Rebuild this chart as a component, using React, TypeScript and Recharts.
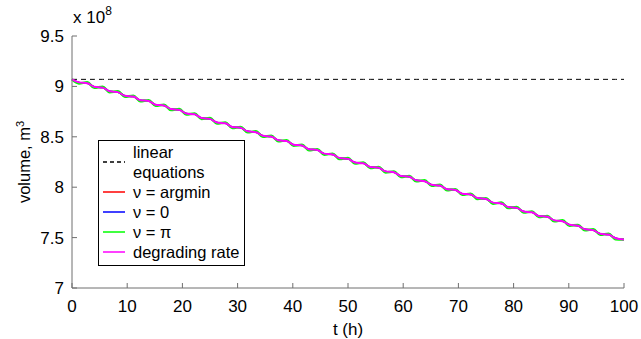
import { LineChart, Line, XAxis, YAxis, Legend } from "recharts";

// reservoir volume in units of 1e8 m³, sampled at the start of each
// drawdown step and at the start of the following plateau
const hours = [
  0, 1.25, 2.78, 4.03, 5.56, 6.81, 8.33, 9.58, 11.11, 12.36, 13.89, 15.14,
  16.67, 17.92, 19.44, 20.69, 22.22, 23.47, 25.0, 26.25, 27.78, 29.03, 30.56,
  31.81, 33.33, 34.58, 36.11, 37.36, 38.89, 40.14, 41.67, 42.92, 44.44, 45.69,
  47.22, 48.47, 50.0, 51.25, 52.78, 54.03, 55.56, 56.81, 58.33, 59.58, 61.11,
  62.36, 63.89, 65.14, 66.67, 67.92, 69.44, 70.69, 72.22, 73.47, 75.0, 76.25,
  77.78, 79.03, 80.56, 81.81, 83.33, 84.58, 86.11, 87.36, 88.89, 90.14, 91.67,
  92.92, 94.44, 95.69, 97.22, 98.47, 100,
];

const modelVolume = [
  9.07, 9.04, 9.032, 8.996, 8.988, 8.952, 8.943, 8.907, 8.899, 8.863, 8.855,
  8.819, 8.811, 8.775, 8.767, 8.731, 8.723, 8.687, 8.678, 8.642, 8.634, 8.598,
  8.59, 8.554, 8.546, 8.51, 8.502, 8.466, 8.458, 8.422, 8.413, 8.377, 8.369,
  8.333, 8.325, 8.289, 8.281, 8.245, 8.237, 8.201, 8.193, 8.157, 8.148, 8.112,
  8.104, 8.068, 8.06, 8.024, 8.016, 7.98, 7.972, 7.936, 7.928, 7.892, 7.883,
  7.847, 7.839, 7.803, 7.795, 7.759, 7.751, 7.715, 7.707, 7.671, 7.663, 7.627,
  7.618, 7.582, 7.574, 7.538, 7.53, 7.494, 7.48,
];

const piVolume = [
  9.07, 9.03, 9.04, 8.986, 8.996, 8.942, 8.951, 8.897, 8.907, 8.853, 8.863,
  8.809, 8.819, 8.765, 8.775, 8.721, 8.731, 8.677, 8.686, 8.632, 8.642, 8.588,
  8.598, 8.544, 8.554, 8.5, 8.51, 8.456, 8.466, 8.412, 8.421, 8.367, 8.377,
  8.323, 8.333, 8.279, 8.289, 8.235, 8.245, 8.191, 8.201, 8.147, 8.156, 8.102,
  8.112, 8.058, 8.068, 8.014, 8.024, 7.97, 7.98, 7.926, 7.936, 7.882, 7.891,
  7.837, 7.847, 7.793, 7.803, 7.749, 7.759, 7.705, 7.715, 7.661, 7.671, 7.617,
  7.626, 7.572, 7.582, 7.528, 7.538, 7.484, 7.48,
];

const linearLevel = 9.07;

const xTicks = [0, 10, 20, 30, 40, 50, 60, 70, 80, 90, 100];
const yTicks = [7, 7.5, 8, 8.5, 9, 9.5];

const legendItems = [
  { lines: ["linear", "equations"], color: "#000000", dashed: true },
  { lines: ["\u03bd = argmin"], color: "#ff0000", dashed: false },
  { lines: ["\u03bd = 0"], color: "#0000ff", dashed: false },
  { lines: ["\u03bd = \u03c0"], color: "#00ff00", dashed: false },
  { lines: ["degrading rate"], color: "#ff00ff", dashed: false },
];

const data = hours.map((t, i) => ({
  t,
  linear: linearLevel,
  argmin: modelVolume[i],
  zero: modelVolume[i],
  pi: piVolume[i],
  degrading: modelVolume[i],
}));

const FONT = "'Liberation Sans', Arial, Helvetica, sans-serif";
const AXIS = "#6e6e6e";

function YLabel(props: any) {
  const vb = props.viewBox || { x: 0, y: 36, width: 72, height: 252 };
  const cx = vb.x + 30;
  const cy = vb.y + vb.height / 2;
  return (
    <g fontFamily={FONT} fill="#000">
      <text
        x={cx}
        y={cy}
        fontSize={16.5}
        textAnchor="middle"
        transform={`rotate(-90 ${cx} ${cy})`}
      >
        volume, m
        <tspan fontSize={11} dy={-6}>
          3
        </tspan>
      </text>
      <text x={vb.x + 73} y={vb.y - 13} fontSize={17}>
        x 10
        <tspan fontSize={12} dy={-8}>
          8
        </tspan>
      </text>
    </g>
  );
}

function XLabel(props: any) {
  const vb = props.viewBox || { x: 72, y: 288, width: 552, height: 30 };
  return (
    <text
      x={vb.x + vb.width / 2}
      y={vb.y + 47}
      fontSize={17}
      fontFamily={FONT}
      textAnchor="middle"
      fill="#000"
    >
      t (h)
    </text>
  );
}

function LegendBox() {
  return (
    <div
      style={{
        border: "1px solid #000",
        background: "#fff",
        padding: "1px 5px 3px 4px",
        fontFamily: FONT,
        fontSize: 16.5,
        lineHeight: "20px",
        color: "#000",
      }}
    >
      {legendItems.map((item) => (
        <div
          key={item.lines.join(" ")}
          style={{ display: "flex", alignItems: "center" }}
        >
          <svg width={30} height={10} style={{ flex: "none" }}>
            <line
              x1={0}
              y1={5}
              x2={22}
              y2={5}
              stroke={item.color}
              strokeWidth={1.5}
              strokeDasharray={item.dashed ? "4 3" : undefined}
            />
          </svg>
          <div>
            {item.lines.map((l) => (
              <div key={l} style={{ whiteSpace: "nowrap" }}>
                {l}
              </div>
            ))}
          </div>
        </div>
      ))}
    </div>
  );
}

export default function App() {
  return (
    <div style={{ width: 641, height: 339, background: "#fff" }}>
      <style>{`body { margin: 0; }`}</style>
      <LineChart
        width={641}
        height={339}
        data={data}
        margin={{ top: 36, right: 17, bottom: 21, left: 0 }}
      >
        <XAxis
          dataKey="t"
          type="number"
          domain={[0, 100]}
          ticks={xTicks}
          height={30}
          stroke={AXIS}
          tickSize={-5}
          tickMargin={17}
          tick={{ fill: "#000", fontSize: 17, fontFamily: FONT }}
          label={<XLabel />}
        />
        <YAxis
          type="number"
          domain={[7, 9.5]}
          ticks={yTicks}
          width={72}
          stroke={AXIS}
          tickSize={-5}
          tickMargin={13}
          tick={{ fill: "#000", fontSize: 17, fontFamily: FONT }}
          label={<YLabel />}
        />
        <Legend
          layout="vertical"
          align="center"
          verticalAlign="middle"
          wrapperStyle={{ left: 98, top: 140, width: "auto" }}
          content={<LegendBox />}
        />
        <Line
          dataKey="linear"
          stroke="#000"
          strokeWidth={1}
          strokeDasharray="5 4"
          dot={false}
          isAnimationActive={false}
        />
        <Line
          dataKey="argmin"
          type="monotone"
          stroke="#ff0000"
          strokeWidth={1.5}
          dot={false}
          isAnimationActive={false}
        />
        <Line
          dataKey="zero"
          type="monotone"
          stroke="#0000ff"
          strokeWidth={1.5}
          dot={false}
          isAnimationActive={false}
        />
        <Line
          dataKey="pi"
          type="monotone"
          stroke="#00ff00"
          strokeWidth={2.5}
          dot={false}
          isAnimationActive={false}
        />
        <Line
          dataKey="degrading"
          type="monotone"
          stroke="#ff00ff"
          strokeWidth={2}
          dot={false}
          isAnimationActive={false}
        />
      </LineChart>
    </div>
  );
}
